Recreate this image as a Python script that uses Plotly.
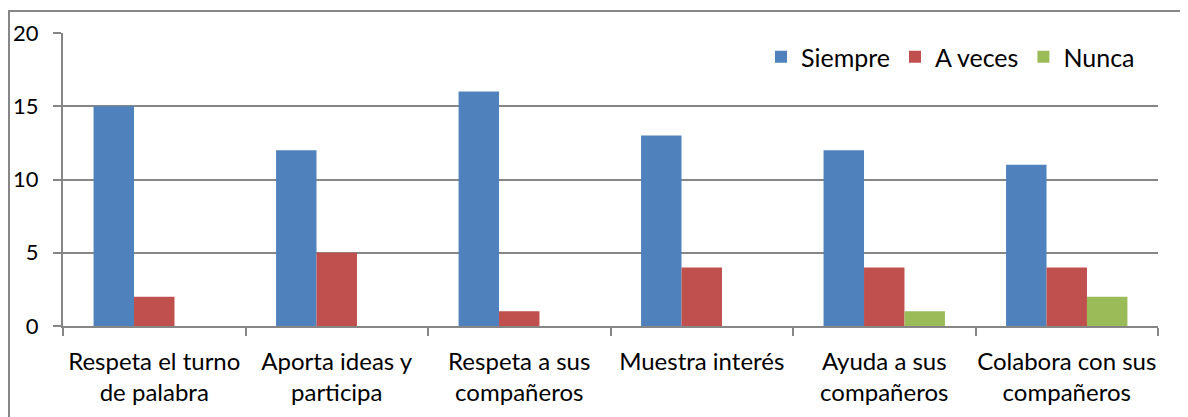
import plotly.graph_objects as go

categories = ["Respeta el turno<br>de palabra", "Aporta ideas y<br>participa", "Respeta a sus<br>compañeros",
              "Muestra interés", "Ayuda a sus<br>compañeros", "Colabora con sus<br>compañeros"]
siempre = [15, 12, 16, 13, 12, 11]
a_veces = [2, 5, 1, 4, 4, 4]
nunca = [0, 0, 0, 0, 1, 2]

series = [("Siempre", siempre, "#4F81BD"), ("A veces", a_veces, "#C0504D"), ("Nunca", nunca, "#9BBB59")]

FONT = "Lato"
# page has an 8px body margin, so the figure is sized to the remaining viewport
W, H = 1180, 409
ML, MR, MT, MB = 55, 30, 25, 91

fig = go.Figure()
for name, vals, col in series:
    fig.add_trace(go.Bar(x=categories, y=vals, name=name, marker=dict(color=col, line=dict(width=0))))

pw = W - ML - MR
ph = H - MT - MB


def px_x(x):
    return (x - ML) / pw


def px_y(y):
    return (H - MB - y) / ph


fig.update_layout(
    width=W, height=H,
    margin=dict(l=ML, r=MR, t=MT, b=MB),
    paper_bgcolor="white", plot_bgcolor="white",
    barmode="group", bargap=0.335, bargroupgap=0,
    font=dict(family=FONT, size=22, color="black"),
    legend=dict(orientation="h", x=px_x(1132), xanchor="right", y=px_y(49), yanchor="middle",
                font=dict(size=25, family=FONT), bgcolor="rgba(0,0,0,0)", traceorder="normal"),
    xaxis=dict(showline=True, linecolor="#868686", linewidth=2, ticks="outside", tickson="boundaries",
               ticklen=8, tickwidth=2, tickcolor="#868686", showgrid=False,
               ticklabelstandoff=13, tickangle=0, automargin=False,
               tickfont=dict(size=24, family=FONT)),
    yaxis=dict(range=[0, 20], dtick=5, showline=True, linecolor="#868686", linewidth=2,
               ticks="outside", ticklen=8, tickwidth=2, tickcolor="#868686",
               showgrid=True, gridcolor="#868686", gridwidth=2, zeroline=False,
               ticklabelstandoff=10, automargin=False,
               tickfont=dict(size=22, family=FONT)),
)
# outer chart border
fig.add_shape(type="rect", xref="paper", yref="paper",
              x0=px_x(1), x1=px_x(W + 30), y0=px_y(H + 30), y1=px_y(3),
              line=dict(color="#868686", width=2), layer="below")
fig.write_html("out.html")
